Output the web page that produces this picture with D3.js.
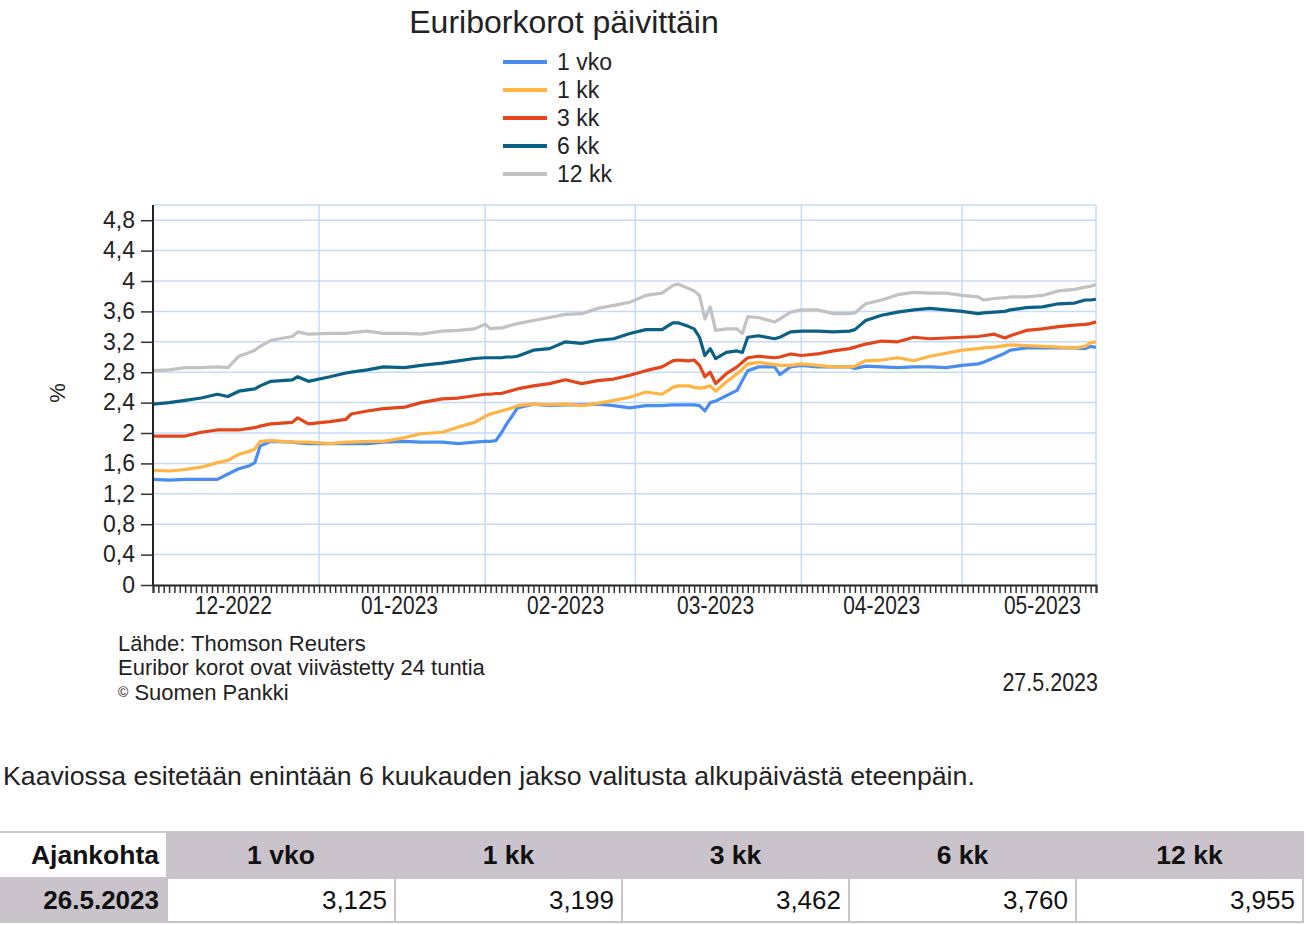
<!DOCTYPE html>
<html>
<head>
<meta charset="utf-8">
<script src="https://cdn.jsdelivr.net/npm/d3@7"></script>
<style>
  body { margin: 0; background: #fff; font-family: "Liberation Sans", Arial, sans-serif; }
  #chart { position: absolute; left: 0; top: 0; }
  #note { position: absolute; left: 3px; top: 761px; margin: 0; font-size: 26.7px; line-height: 30px; color: #222; white-space: nowrap; }
  table { position: absolute; left: -2px; top: 831px; border-collapse: separate; border-spacing: 2px;
          background: #cbc3cb; table-layout: fixed; width: 1306px; font-size: 26px; color: #111; }
  td, th { padding: 0 7px; }
  th { height: 44px; font-weight: bold; text-align: center; font-size: 26.5px; }
  td { height: 42px; text-align: right; background: #fff; }
  th.first { background: #fff; text-align: right; }
  td.first { background: #cbc3cb; font-weight: bold; }
</style>
</head>
<body>
<div id="chart"></div>
<p id="note"></p>
<table id="latest"></table>
<script>
// Euribor daily rates
const dates = [
  "2022-12-01","2022-12-04","2022-12-07","2022-12-10","2022-12-13","2022-12-15","2022-12-17","2022-12-19",
  "2022-12-20","2022-12-21","2022-12-23","2022-12-27","2022-12-28","2022-12-30","2023-01-03","2023-01-06",
  "2023-01-07","2023-01-10","2023-01-13","2023-01-17","2023-01-20","2023-01-24","2023-01-27","2023-01-30",
  "2023-02-01","2023-02-02","2023-02-03","2023-02-04","2023-02-05","2023-02-06","2023-02-07","2023-02-10",
  "2023-02-13","2023-02-16","2023-02-19","2023-02-22","2023-02-25","2023-02-28","2023-03-03","2023-03-06",
  "2023-03-08","2023-03-09","2023-03-11","2023-03-12","2023-03-13","2023-03-14","2023-03-15","2023-03-16",
  "2023-03-18","2023-03-20","2023-03-21","2023-03-22","2023-03-24","2023-03-27","2023-03-28","2023-03-30",
  "2023-04-01","2023-04-04","2023-04-07","2023-04-10","2023-04-11","2023-04-13","2023-04-16","2023-04-19",
  "2023-04-22","2023-04-25","2023-04-28","2023-05-01","2023-05-04","2023-05-05","2023-05-07","2023-05-09",
  "2023-05-10","2023-05-13","2023-05-16","2023-05-19","2023-05-22","2023-05-24","2023-05-25","2023-05-26"
];
const vko1 = [
  1.39,1.38,1.39,1.39,1.39,1.46,1.53,1.57,1.61,1.83,1.89,1.88,1.87,1.86,1.86,1.86,1.86,1.86,1.88,1.89,1.88,1.88,1.86,1.88,
  1.89,1.89,1.90,2.00,2.12,2.22,2.33,2.38,2.36,2.37,2.37,2.38,2.36,2.33,
  2.36,2.36,2.37,2.37,2.37,2.37,2.36,2.29,2.40,2.42,2.49,2.56,2.69,2.82,2.87,2.87,2.77,2.87,
  2.89,2.87,2.87,2.87,2.85,2.88,2.87,2.86,2.87,2.87,2.86,
  2.89,2.91,2.93,2.99,3.05,3.09,3.12,3.12,3.12,3.12,3.11,3.14,3.125
];
const kk1 = [
  1.51,1.50,1.52,1.55,1.61,1.64,1.72,1.76,1.79,1.89,1.90,1.88,1.88,1.88,1.86,1.88,1.88,1.89,1.89,1.94,1.99,2.01,2.08,2.14,
  2.22,2.25,2.27,2.29,2.31,2.33,2.36,2.38,2.37,2.38,2.36,2.39,2.43,2.47,
  2.54,2.51,2.60,2.62,2.62,2.60,2.59,2.60,2.62,2.55,2.67,2.78,2.84,2.91,2.93,2.90,2.89,2.89,
  2.91,2.89,2.87,2.87,2.88,2.95,2.96,2.99,2.95,3.01,3.05,
  3.09,3.11,3.12,3.13,3.15,3.16,3.15,3.14,3.13,3.12,3.14,3.19,3.199
];
const kk3 = [
  1.96,1.96,1.96,2.01,2.04,2.04,2.04,2.06,2.07,2.09,2.12,2.14,2.20,2.12,2.15,2.18,2.25,2.29,2.32,2.34,2.40,2.45,2.46,2.49,
  2.51,2.51,2.52,2.52,2.54,2.56,2.58,2.62,2.65,2.70,2.65,2.69,2.71,2.76,
  2.82,2.87,2.95,2.96,2.95,2.96,2.89,2.74,2.80,2.65,2.78,2.87,2.93,2.99,3.01,2.99,3.00,3.04,
  3.02,3.04,3.08,3.11,3.13,3.17,3.21,3.20,3.26,3.24,3.25,
  3.26,3.27,3.28,3.30,3.25,3.28,3.35,3.37,3.40,3.42,3.43,3.44,3.462
];
const kk6 = [
  2.38,2.40,2.43,2.46,2.51,2.48,2.55,2.57,2.58,2.62,2.68,2.70,2.74,2.68,2.74,2.79,2.80,2.83,2.87,2.86,2.89,2.92,2.95,2.98,
  2.99,2.99,2.99,2.99,3.00,3.00,3.01,3.09,3.11,3.20,3.18,3.22,3.24,3.31,
  3.36,3.36,3.45,3.45,3.40,3.37,3.26,3.02,3.11,2.98,3.06,3.08,3.06,3.26,3.28,3.24,3.26,3.33,
  3.34,3.34,3.33,3.34,3.36,3.48,3.55,3.59,3.62,3.64,3.62,
  3.60,3.57,3.58,3.59,3.60,3.62,3.65,3.66,3.70,3.71,3.75,3.75,3.760
];
const kk12 = [
  2.82,2.83,2.86,2.86,2.87,2.86,3.01,3.06,3.09,3.14,3.22,3.27,3.33,3.30,3.31,3.31,3.32,3.34,3.31,3.31,3.30,3.34,3.35,3.37,
  3.43,3.37,3.38,3.38,3.40,3.42,3.44,3.48,3.52,3.56,3.57,3.64,3.68,3.72,
  3.81,3.84,3.94,3.96,3.90,3.87,3.81,3.50,3.66,3.35,3.37,3.37,3.31,3.53,3.52,3.46,3.50,3.59,
  3.62,3.62,3.57,3.57,3.58,3.70,3.75,3.82,3.85,3.84,3.84,
  3.81,3.79,3.75,3.77,3.78,3.79,3.79,3.81,3.87,3.89,3.92,3.93,3.955
];
const seriesNames = ["1 vko", "1 kk", "3 kk", "6 kk", "12 kk"];
const seriesColors = ["#4a8df0", "#ffb443", "#e2461a", "#0b6085", "#c2c2c2"];
const yTicks = [0, 0.4, 0.8, 1.2, 1.6, 2, 2.4, 2.8, 3.2, 3.6, 4, 4.4, 4.8];
const startDate = "2022-12-01";
const endDate = "2023-05-26";

// latest values table
const tableHeads = ["Ajankohta", "1 vko", "1 kk", "3 kk", "6 kk", "12 kk"];
const tableDate = "26.5.2023";
const tableValues = ["3,125", "3,199", "3,462", "3,760", "3,955"];

const parse = d3.timeParse("%Y-%m-%d");
const series = [vko1, kk1, kk3, kk6, kk12].map((vals, i) => ({
  name: seriesNames[i],
  color: seriesColors[i],
  values: vals.map((v, j) => ({ date: parse(dates[j]), v }))
}));

const width = 1306, height = 730;
const svg = d3.select("#chart").append("svg").attr("width", width).attr("height", height);

const x = d3.scaleTime().domain([parse(startDate), parse(endDate)]).range([153, 1096]);
const y = d3.scaleLinear().domain([0, 5]).range([585, 205]);

const fi = d3.formatLocale({ decimal: ",", thousands: " ", grouping: [3], currency: ["", " €"] });
const yFmt = fi.format("~g");

// grid
const grid = svg.append("g").attr("stroke", "#c6dbf8").attr("stroke-width", 1.5);
grid.selectAll(".hg")
  .data(yTicks.filter(d => d > 0).concat([5]))
  .enter().append("line")
  .attr("x1", x.range()[0]).attr("x2", x.range()[1])
  .attr("y1", d => y(d)).attr("y2", d => y(d));
const monthStarts = d3.timeMonth.range(d3.timeDay.offset(parse(startDate), 1), parse(endDate));
grid.selectAll(".vg")
  .data(monthStarts.concat([parse(endDate)]))
  .enter().append("line")
  .attr("x1", d => x(d)).attr("x2", d => x(d))
  .attr("y1", y(5)).attr("y2", y(0));

// lines
const line = d3.line().x(d => x(d.date)).y(d => y(d.v));
svg.append("g").selectAll("path")
  .data(series)
  .enter().append("path")
  .attr("d", d => line(d.values))
  .attr("fill", "none")
  .attr("stroke", d => d.color)
  .attr("stroke-width", 3.2)
  .attr("stroke-linejoin", "round");

// x axis with daily ticks
const xAxis = svg.append("g")
  .attr("transform", `translate(0, ${y(0)})`)
  .call(d3.axisBottom(x).ticks(d3.timeDay.every(1)).tickSize(8).tickFormat(""));
xAxis.select(".domain").attr("stroke", "#222").attr("stroke-width", 2);
xAxis.selectAll(".tick line").attr("stroke", "#333").attr("stroke-width", 1.5);

// month labels: narrow look by squeezing the glyphs horizontally
const monthFmt = d3.timeFormat("%m-%Y");
svg.append("g").selectAll("text")
  .data(d3.timeMonth.range(parse(startDate), parse(endDate)))
  .enter().append("text")
  .attr("transform", d => `translate(${x(d3.timeDay.offset(d, 15))}, 614) scale(0.84, 1)`)
  .attr("text-anchor", "middle")
  .style("font-size", "25px")
  .attr("fill", "#222")
  .text(d => monthFmt(d));

// y axis
const yAxis = svg.append("g")
  .attr("transform", `translate(${x.range()[0]}, 0)`)
  .call(d3.axisLeft(y).tickValues(yTicks).tickSize(12).tickPadding(6).tickFormat(yFmt));
yAxis.select(".domain").attr("stroke", "#222").attr("stroke-width", 2)
  .attr("d", `M0,${y(0)}V${y(5)}`);
yAxis.selectAll(".tick line").attr("stroke", "#333").attr("stroke-width", 1.5);
yAxis.selectAll("text")
  .style("font-family", "'Liberation Sans', Arial, sans-serif")
  .style("font-size", "23px")
  .attr("fill", "#222");

svg.append("text")
  .attr("transform", "translate(65, 393) rotate(-90)")
  .attr("text-anchor", "middle")
  .style("font-size", "22px")
  .attr("fill", "#222")
  .text("%");

// title
svg.append("text")
  .attr("x", 564).attr("y", 33)
  .attr("text-anchor", "middle")
  .style("font-size", "32px")
  .attr("fill", "#222")
  .text("Euriborkorot päivittäin");

// legend
const legend = svg.append("g").selectAll("g")
  .data(series)
  .enter().append("g")
  .attr("transform", (d, i) => `translate(503, ${62 + i * 28})`);
legend.append("line")
  .attr("x1", 0).attr("x2", 44)
  .attr("stroke", d => d.color).attr("stroke-width", 4);
legend.append("text")
  .attr("x", 54).attr("y", 8)
  .style("font-size", "23px")
  .attr("fill", "#222")
  .text(d => d.name);

// footer
const foot = svg.append("g").style("font-size", "22px").attr("fill", "#222");
foot.append("text").attr("x", 118).attr("y", 651).text("Lähde: Thomson Reuters");
foot.append("text").attr("x", 118).attr("y", 675).text("Euribor korot ovat viivästetty 24 tuntia");
const cp = foot.append("text").attr("x", 118).attr("y", 700);
cp.append("tspan").style("font-size", "14px").attr("dy", -3).text("©");
cp.append("tspan").attr("dy", 3).text(" Suomen Pankki");
svg.append("text")
  .attr("transform", "translate(1098, 691) scale(0.86, 1)")
  .attr("text-anchor", "end")
  .style("font-size", "25px")
  .attr("fill", "#222")
  .text("27.5.2023");

// note and table below the chart
d3.select("#note").text("Kaaviossa esitetään enintään 6 kuukauden jakso valitusta alkupäivästä eteenpäin.");

const table = d3.select("#latest");
const colWidths = [166, 226, 225, 225, 225, 225];
table.append("colgroup").selectAll("col").data(colWidths).enter().append("col").style("width", d => d + "px");
table.append("tr").selectAll("th")
  .data(tableHeads)
  .enter().append("th")
  .attr("class", (d, i) => i === 0 ? "first" : null)
  .text(d => d);
const row = table.append("tr");
row.append("td").attr("class", "first").text(tableDate);
row.selectAll("td.v")
  .data(tableValues)
  .enter().append("td")
  .attr("class", "v")
  .text(d => d);
</script>
</body>
</html>
